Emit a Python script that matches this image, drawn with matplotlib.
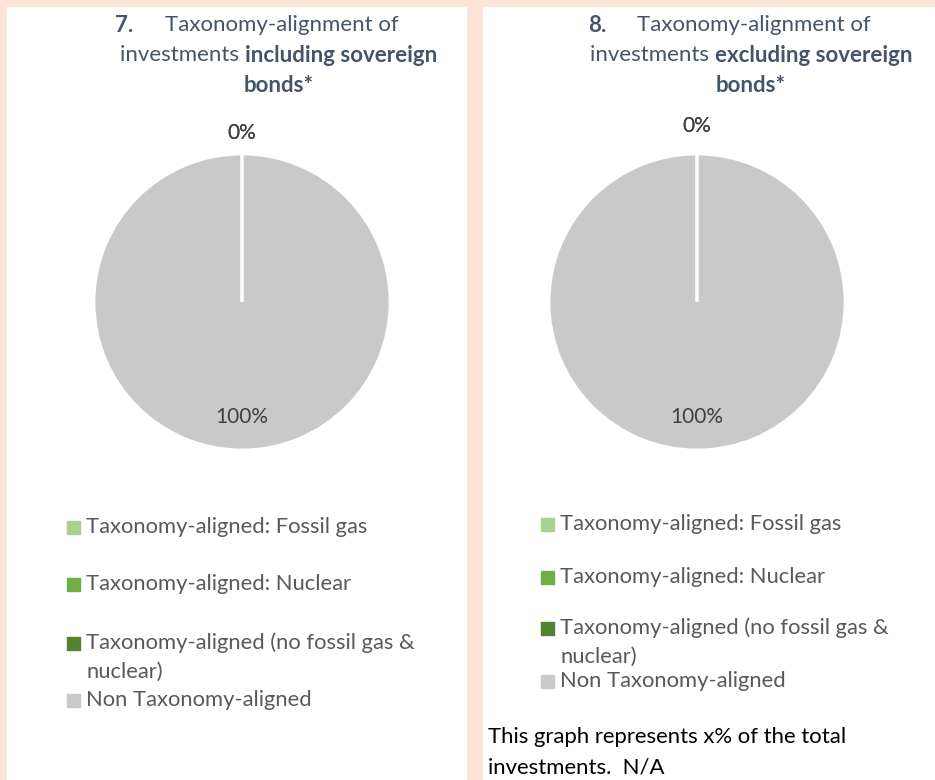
import numpy as np
import matplotlib
matplotlib.use('Agg')
import matplotlib.pyplot as plt
from matplotlib.patches import Rectangle

plt.rcParams['font.family'] = ['Lato', 'DejaVu Sans']

##########
## Data ##
##########
categories = ['Taxonomy-aligned: Fossil gas',
              'Taxonomy-aligned: Nuclear',
              'Taxonomy-aligned (no fossil gas &\nnuclear)',
              'Non Taxonomy-aligned']
incl_sovereign = [0, 0, 0, 100]
excl_sovereign = [0, 0, 0, 100]
colors = ['#A9D18E', '#70AD47', '#548235', '#C9C9C9']

chart_numbers = ['7.', '8.']
title_line1 = 'Taxonomy-alignment of'
title_plain = 'investments '
title_bold = ['including sovereign', 'excluding sovereign']
title_line3 = 'bonds*'
note_lines = ['This graph represents x% of the total', 'investments.  N/A']

############
## Layout ##
############
W, H = 935, 780
PEACH = '#FCE4D6'
TITLE_C = '#44546A'
LEG_C = '#595959'
LBL_C = '#404040'

def fx(px):
    return px / W

def fy(py):
    return 1 - py / H

fig = plt.figure(figsize=(W / 100, H / 100), dpi=100, facecolor=PEACH)
renderer = fig.canvas.get_renderer()

# white panels (behind everything)
for x0, x1 in [(7, 466), (483, 935)]:
    fig.patches.append(Rectangle((fx(x0), 0), fx(x1) - fx(x0), fy(7),
                                 transform=fig.transFigure, color='white', zorder=-5))

panels = [
    dict(values=incl_sovereign, num_x=115, tit_x=165, center=(242, 302), text_cx=279,
         out_dist=1.14, leg_x=67, leg_rows=[527, 584, 643, 700]),
    dict(values=excl_sovereign, num_x=588, tit_x=637, center=(697, 302), text_cx=751,
         out_dist=1.19, leg_x=541, leg_rows=[524, 577, 628, 681]),
]
R = 148
TFS = 16
LFS = 15.8

for i, p in enumerate(panels):
    ## Title
    fig.text(fx(p['num_x']), fy(25), chart_numbers[i], fontsize=TFS, weight='bold',
             color=TITLE_C, va='center')
    fig.text(fx(p['tit_x']), fy(25), title_line1, fontsize=TFS, color=TITLE_C, va='center')
    t1 = fig.text(0, fy(55), title_plain, fontsize=TFS, color=TITLE_C, va='center')
    t2 = fig.text(0, fy(55), title_bold[i], fontsize=TFS, color=TITLE_C, weight='bold', va='center')
    w1 = t1.get_window_extent(renderer).width
    w2 = t2.get_window_extent(renderer).width
    left = p['text_cx'] - (w1 + w2) / 2
    t1.set_x(fx(left))
    t2.set_x(fx(left + w1))
    fig.text(fx(p['text_cx']), fy(85), title_line3, fontsize=TFS, color=TITLE_C,
             weight='bold', va='center', ha='center')

    ## Pie
    cx, cy = p['center']
    ax = fig.add_axes([fx(cx - R), fy(cy + R), 2 * R / W, 2 * R / H], zorder=1)
    wedges, _ = ax.pie(p['values'], colors=colors, startangle=90, counterclock=False,
                       wedgeprops=dict(edgecolor='white', linewidth=2))
    ax.set_xlim(-1, 1)
    ax.set_ylim(-1, 1)
    ax.set_aspect('auto')
    ax.axis('off')
    total = float(sum(p['values']))
    seen = set()
    for w, v in zip(wedges, p['values']):
        # empty slices show up as a white spoke on top of the big slice
        if v == 0:
            w.set_zorder(3)
        ang = np.deg2rad((w.theta1 + w.theta2) / 2)
        d = p['out_dist'] if v / total < 0.05 else 0.78
        pos = (round(d * np.cos(ang), 3), round(d * np.sin(ang), 3))
        if pos in seen:
            continue
        seen.add(pos)
        ax.text(pos[0], pos[1], '%d%%' % round(100 * v / total), ha='center', va='center',
                fontsize=15, color=LBL_C)

    ## Legend
    for lab, col, y in zip(categories, colors, p['leg_rows']):
        fig.patches.append(Rectangle((fx(p['leg_x']), fy(y + 6.5)), 13 / W, 13 / H,
                                     transform=fig.transFigure, color=col, zorder=2))
        for k, line in enumerate(lab.split('\n')):
            fig.text(fx(p['leg_x'] + 19), fy(y + 29 * k), line, fontsize=LFS,
                     color=LEG_C, va='center')

## Note under the right chart
for k, line in enumerate(note_lines):
    fig.text(fx(488), fy(737 + 31 * k), line, fontsize=15.9, color='black', va='center')

fig.savefig('out.png', dpi=100, facecolor=PEACH)
